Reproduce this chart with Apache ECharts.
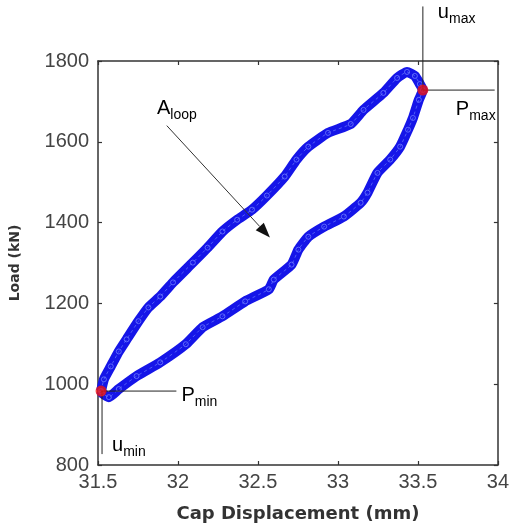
<!DOCTYPE html>
<html>
<head>
<meta charset="utf-8">
<script src="https://cdn.jsdelivr.net/npm/echarts@6/dist/echarts.min.js"></script>
<style>html,body{margin:0;padding:0;background:#fff}#c{width:512px;height:529px}</style>
</head>
<body>
<div id="c"></div>
<script>
// ---- data ----
var xTicks = [31.5, 32, 32.5, 33, 33.5, 34];
var yTicks = [800, 1000, 1200, 1400, 1600, 1800];
var upperX = [31.519,31.537,31.580,31.630,31.679,31.753,31.815,31.889,31.969,32.093,32.185,32.278,32.370,32.463,32.556,32.667,32.741,32.815,32.938,33.080,33.160,33.284,33.370,33.432,33.481,33.512,33.531];
var upperY = [983,1012,1044,1081,1111,1156,1190,1217,1252,1301,1338,1378,1407,1432,1467,1514,1556,1588,1622,1644,1679,1721,1758,1773,1763,1743,1728];
var lowerX = [33.531,33.506,33.469,33.438,33.389,33.327,33.247,33.185,33.142,33.037,32.914,32.815,32.753,32.710,32.599,32.568,32.420,32.278,32.154,32.049,31.889,31.741,31.630,31.568,31.525,31.519];
var lowerY = [1728,1704,1659,1630,1588,1556,1523,1474,1449,1415,1390,1365,1333,1296,1259,1235,1205,1168,1141,1099,1054,1020,988,968,978,983];
var peakPoints = [[33.531, 1728], [31.519, 983]];
var xName = 'Cap Displacement (mm)';
var yName = 'Load (kN)';

var loop = [];
for (var i = 0; i < upperX.length; i++) loop.push([upperX[i], upperY[i]]);
for (var j = 1; j < lowerX.length; j++) loop.push([lowerX[j], lowerY[j]]);

var chart = echarts.init(document.getElementById('c'));
var font = 'Liberation Sans, Arial, sans-serif';
var axisLine = {show: true, lineStyle: {color: '#333', width: 1.5}};
var tick = {show: true, inside: true, length: 4, lineStyle: {color: '#333', width: 1.2}};
chart.setOption({
  animation: false,
  backgroundColor: '#fff',
  grid: {left: 94, right: 13, top: 61, bottom: 64, show: false},
  xAxis: [{
    type: 'value', min: 31.5, max: 34, interval: 0.5, position: 'bottom',
    axisLine: axisLine, axisTick: tick, splitLine: {show: false},
    axisLabel: {fontFamily: font, fontSize: 20, color: '#444', margin: 7,
      formatter: function (v) { return String(v); }},
    name: xName, nameLocation: 'middle', nameGap: 40,
    nameTextStyle: {fontFamily: 'DejaVu Sans', fontWeight: 'bold', fontSize: 18, color: '#333'}
  }, {
    type: 'value', min: 31.5, max: 34, interval: 0.5, position: 'top',
    axisLine: axisLine, axisTick: tick, splitLine: {show: false}, axisLabel: {show: false}
  }],
  yAxis: [{
    type: 'value', min: 800, max: 1800, interval: 200, position: 'left',
    axisLine: axisLine, axisTick: tick, splitLine: {show: false},
    axisLabel: {fontFamily: font, fontSize: 20, color: '#444', margin: 9,
      formatter: function (v) { return String(v); }},
    name: yName, nameLocation: 'middle', nameGap: 76, nameRotate: 90,
    nameTextStyle: {fontFamily: 'DejaVu Sans', fontWeight: 'bold', fontSize: 14, color: '#333'}
  }, {
    type: 'value', min: 800, max: 1800, interval: 200, position: 'right',
    axisLine: axisLine, axisTick: tick, splitLine: {show: false}, axisLabel: {show: false}
  }],
  series: [{
    type: 'line', data: loop, xAxisIndex: 0, yAxisIndex: 0,
    showSymbol: false, smooth: 0.15,
    lineStyle: {color: '#1515e8', width: 10}, z: 2
  }, {
    type: 'line', data: loop, xAxisIndex: 0, yAxisIndex: 0,
    symbol: 'circle', symbolSize: 5, smooth: 0.15,
    itemStyle: {color: 'rgba(0,0,0,0)', borderColor: '#6f7bff', borderWidth: 0.8},
    lineStyle: {color: '#4f5cf6', width: 1, type: [3, 3]}, z: 3
  }, {
    type: 'scatter', data: peakPoints, symbolSize: 11,
    itemStyle: {color: '#ee1111'}, z: 5
  }]
});

// ---- annotations (positions from data coordinates) ----
function px(p) { return chart.convertToPixel({gridIndex: 0}, p); }
var pMax = px(peakPoints[0]);
var pMin = px(peakPoints[1]);
var topY = px([31.5, 1935])[1];
var rightX = px([33.98, 1800])[0];
var pMinLineEnd = px([31.99, 1800])[0];
var uMinBottom = px([31.5, 827])[1];
var arrowStart = px([31.93, 1640]);
var arrowEnd = px([32.575, 1363]);
var lineStyle = {stroke: '#222', lineWidth: 1};
function lbl(x, y, main, sub) {
  return {type: 'text', x: x, y: y, style: {
    text: '{m|' + main + '}{s|' + sub + '}', fontFamily: font,
    rich: {m: {fontFamily: font, fontSize: 20, color: '#111', verticalAlign: 'bottom'},
           s: {fontFamily: font, fontSize: 14, color: '#111', verticalAlign: 'bottom', padding: [0,0,-4,0]}}
  }, z: 10};
}
var ang = Math.atan2(arrowEnd[1] - arrowStart[1], arrowEnd[0] - arrowStart[0]);
var ah = 15, aw = 5.5;
var tip = arrowEnd;
var bx = tip[0] - ah * Math.cos(ang), by = tip[1] - ah * Math.sin(ang);
chart.setOption({graphic: [
  {type: 'line', shape: {x1: pMax[0], y1: topY, x2: pMax[0], y2: pMax[1]}, style: lineStyle, z: 4},
  {type: 'line', shape: {x1: pMax[0], y1: pMax[1], x2: rightX, y2: pMax[1]}, style: lineStyle, z: 4},
  {type: 'line', shape: {x1: pMin[0], y1: pMin[1], x2: pMinLineEnd, y2: pMin[1]}, style: lineStyle, z: 4},
  {type: 'line', shape: {x1: pMin[0] + 1, y1: pMin[1], x2: pMin[0] + 1, y2: uMinBottom}, style: lineStyle, z: 4},
  {type: 'line', shape: {x1: arrowStart[0], y1: arrowStart[1], x2: bx, y2: by}, style: {stroke: '#333', lineWidth: 1}, z: 4},
  {type: 'polygon', shape: {points: [tip,
      [bx + aw * Math.sin(ang), by - aw * Math.cos(ang)],
      [bx - aw * Math.sin(ang), by + aw * Math.cos(ang)]]}, style: {fill: '#111'}, z: 4},
  lbl(pMax[0] + 15, 2, 'u', 'max'),
  lbl(pMax[0] + 33, 99, 'P', 'max'),
  lbl(157, 98, 'A', 'loop'),
  lbl(pMinLineEnd + 5, 385, 'P', 'min'),
  lbl(pMin[0] + 11, 435, 'u', 'min')
]});
</script>
</body>
</html>
